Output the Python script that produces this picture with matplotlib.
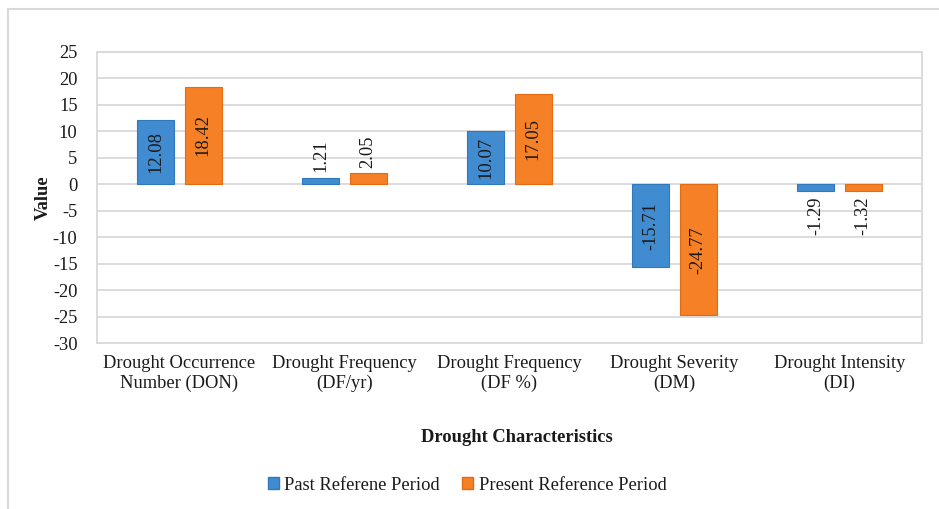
import matplotlib
matplotlib.use("Agg")
import matplotlib.pyplot as plt
from matplotlib.lines import Line2D
from matplotlib.patches import Patch
import numpy as np

plt.rcParams['font.family'] = ['Liberation Serif', 'DejaVu Serif']
plt.rcParams['axes.unicode_minus'] = False

# drought characteristics for the two reference periods
categories = ["Drought Occurrence\nNumber (DON)", "Drought Frequency\n(DF/yr)",
              "Drought Frequency\n(DF %)", "Drought Severity\n(DM)",
              "Drought Intensity\n(DI)"]
past = [12.08, 1.21, 10.07, -15.71, -1.29]
present = [18.42, 2.05, 17.05, -24.77, -1.32]
series_names = ["Past Referene Period", "Present Reference Period"]
yticks = list(range(-30, 30, 5))

blue, blue_edge = "#418CD0", "#2F78BD"
orange, orange_edge = "#F58025", "#E56B12"
grid_col = "#D9D9D9"
txt_col = "#1a1a1a"
fs = 13.3

fig = plt.figure(figsize=(9.39, 5.09), dpi=100)
ax = fig.add_axes([97/939, 1-343/509, 825/939, 291/509])

x = np.arange(len(categories))
w = 0.225
off = 0.143
b1 = ax.bar(x - off, past, w, color=blue, edgecolor=blue_edge, linewidth=0.8, zorder=3)
b2 = ax.bar(x + off, present, w, color=orange, edgecolor=orange_edge, linewidth=0.8, zorder=3)


def label_bars(bars, vals):
    for rect, v in zip(bars, vals):
        cx = rect.get_x() + rect.get_width() / 2
        if abs(v) > 5:
            ax.text(cx, v / 2, f"{v:.2f}", rotation=90, ha="center", va="center",
                    fontsize=fs, color=txt_col, zorder=4)
        else:
            ax.annotate(f"{v:.2f}", (cx, v), xytext=(0, 4 if v > 0 else -4),
                        textcoords="offset points", rotation=90, ha="center",
                        va="bottom" if v > 0 else "top", fontsize=fs,
                        color=txt_col, zorder=4)


label_bars(b1, past)
label_bars(b2, present)

ax.set_xlim(-0.5, len(categories) - 0.5)
ax.set_ylim(-30, 25)
ax.set_yticks(yticks)
ax.set_xticks(x)
ax.set_xticklabels(categories, fontsize=fs, color=txt_col, linespacing=1.15)
ax.tick_params(axis="both", length=0, labelsize=fs, labelcolor=txt_col)
ax.tick_params(axis="y", pad=14)
ax.tick_params(axis="x", pad=9)
ax.yaxis.grid(True, color=grid_col, linewidth=1.3, zorder=0)
ax.set_axisbelow(True)
for s in ax.spines.values():
    s.set_color(grid_col)
    s.set_linewidth(1.3)

ax.set_ylabel("Value", fontsize=fs, fontweight="bold", color=txt_col, labelpad=1)
fig.text(517/939, 1-438/509, "Drought Characteristics", ha="center", va="center",
         fontsize=fs, fontweight="bold", color=txt_col)

handles = [Patch(facecolor=blue, edgecolor=blue_edge),
           Patch(facecolor=orange, edgecolor=orange_edge)]
fig.legend(handles, series_names, loc="center", bbox_to_anchor=(467/939, 1-485/509),
           ncol=2, frameon=False, fontsize=fs, handlelength=0.6, handleheight=0.6,
           handletextpad=0.3, columnspacing=1.2, labelcolor=txt_col)

# outer chart frame
fig.add_artist(Line2D([8/939, 8/939], [0, 1-9/509], color=grid_col, linewidth=1.5))
fig.add_artist(Line2D([8/939, 1], [1-9/509, 1-9/509], color=grid_col, linewidth=1.5))

fig.savefig("out.png", dpi=100)
